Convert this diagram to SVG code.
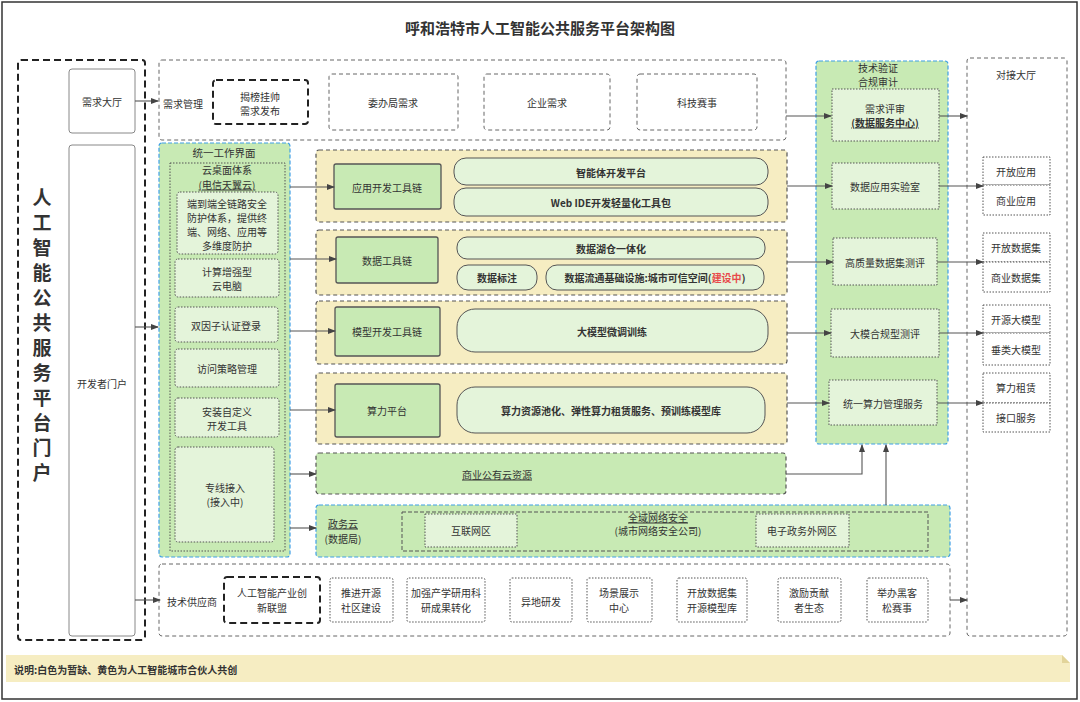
<svg xmlns="http://www.w3.org/2000/svg" width="1080" height="702" viewBox="0 0 1080 702">
<defs>
<marker id="arr" markerWidth="8" markerHeight="6" refX="7" refY="3" orient="auto" markerUnits="userSpaceOnUse">
<path d="M0,0 L8,3 L0,6 Z" fill="#444"/>
</marker>
<style>
.t{font-family:"Noto Sans CJK SC","Noto Sans",sans-serif;font-size:10px;fill:#333;text-anchor:middle;dominant-baseline:central}
.b{font-weight:bold}
.u{text-decoration:underline}
.gdash{fill:#fff;stroke:#666;stroke-width:1;stroke-dasharray:4 3}
.kdash{fill:#fff;stroke:#222;stroke-width:2;stroke-dasharray:7 4}
.plain{fill:#fff;stroke:#888;stroke-width:1}
.dot{fill:#fff;stroke:#555;stroke-width:1;stroke-dasharray:1.5 1.5}
.dotg{fill:#e4f4da;stroke:#555;stroke-width:1;stroke-dasharray:1.5 1.5}
.blue{fill:#c8eab4;stroke:#3e9fe6;stroke-width:1.2;stroke-dasharray:4 2}
.yel{fill:#f6edc2;stroke:#555;stroke-width:1.2;stroke-dasharray:4 3}
.gbox{fill:#c8eab4;stroke:#555;stroke-width:1.3}
.pill{fill:#e4f4da;stroke:#555;stroke-width:1}
.gdashd{fill:#c8eab4;stroke:#555;stroke-width:1.2;stroke-dasharray:4 3}
.c{fill:none;stroke:#555;stroke-width:1.1;marker-end:url(#arr)}
</style>
</defs>
<rect x="0" y="0" width="1080" height="702" fill="#fff"/>
<rect x="2" y="2" width="1075" height="697" fill="none" stroke="#333" stroke-width="1.5"/>
<text class="t b" x="540" y="27" style="font-size:15px">呼和浩特市人工智能公共服务平台架构图</text>

<g id="portal">
<rect class="kdash" x="18" y="60" width="127" height="580" rx="3" style="fill:none"/>
<text class="t b" style="font-size:19px"><tspan x="42" y="196">人</tspan><tspan x="42" y="221">工</tspan><tspan x="42" y="246">智</tspan><tspan x="42" y="271">能</tspan><tspan x="42" y="296">公</tspan><tspan x="42" y="321">共</tspan><tspan x="42" y="346">服</tspan><tspan x="42" y="371">务</tspan><tspan x="42" y="396">平</tspan><tspan x="42" y="421">台</tspan><tspan x="42" y="446">门</tspan><tspan x="42" y="471">户</tspan></text>
</g>
<g id="demand-hall"><rect class="plain" x="69" y="69" width="66" height="64" rx="3"/><text class="t" x="102" y="101">需求大厅</text></g>
<g id="dev-portal"><rect class="plain" x="69" y="145" width="66" height="491" rx="3"/><text class="t" x="102" y="383">开发者门户</text></g>

<g id="demand-mgmt">
<rect class="gdash" x="159" y="60" width="627" height="80" rx="3"/>
<text class="t" x="183" y="103">需求管理</text>
<rect class="kdash" x="213" y="80" width="95" height="44" rx="3"/>
<text class="t"><tspan x="260" y="96">揭榜挂帅</tspan><tspan x="260" y="110">需求发布</tspan></text>
<rect class="gdash" x="329" y="74" width="129" height="56" rx="3"/><text class="t" x="393" y="102">委办局需求</text>
<rect class="gdash" x="484" y="74" width="126" height="56" rx="3"/><text class="t" x="547" y="102">企业需求</text>
<rect class="gdash" x="637" y="74" width="120" height="56" rx="3"/><text class="t" x="697" y="102">科技赛事</text>
</g>

<g id="workspace">
<rect class="blue" x="159" y="143" width="131" height="414" rx="3"/>
<text class="t" x="224" y="152" style="font-size:10.5px">统一工作界面</text>
<rect class="dot" x="170" y="163" width="115" height="388" style="fill:none"/>
<text class="t" x="227" y="169">云桌面体系</text>
<text class="t u" x="227" y="184">(电信天翼云)</text>
<rect class="dotg" x="177" y="192" width="101" height="62" rx="3"/>
<text class="t"><tspan x="227" y="203">端到端全链路安全</tspan><tspan x="227" y="217">防护体系，提供终</tspan><tspan x="227" y="231">端、网络、应用等</tspan><tspan x="227" y="245">多维度防护</tspan></text>
<rect class="dotg" x="175" y="259" width="104" height="38" rx="3"/>
<text class="t"><tspan x="227" y="271">计算增强型</tspan><tspan x="227" y="285">云电脑</tspan></text>
<rect class="dotg" x="175" y="307" width="103" height="35" rx="3"/>
<text class="t" x="226" y="325">双因子认证登录</text>
<rect class="dotg" x="175" y="349" width="104" height="38" rx="3"/>
<text class="t" x="227" y="368">访问策略管理</text>
<rect class="dotg" x="175" y="398" width="104" height="39" rx="3"/>
<text class="t"><tspan x="227" y="411">安装自定义</tspan><tspan x="227" y="425">开发工具</tspan></text>
<rect class="dotg" x="175" y="447" width="99" height="95" rx="3"/>
<text class="t"><tspan x="225" y="487">专线接入</tspan><tspan x="225" y="501">(接入中)</tspan></text>
</g>

<g id="app-chain">
<rect class="yel" x="316" y="150" width="471" height="72" rx="3"/>
<rect class="gbox" x="334" y="164" width="107" height="45" rx="2"/><text class="t" x="387" y="187">应用开发工具链</text>
<rect class="pill" x="454" y="158" width="314" height="27" rx="12"/><text class="t b" x="611" y="172">智能体开发平台</text>
<rect class="pill" x="454" y="188" width="314" height="28" rx="12"/><text class="t b" x="611" y="202">Web IDE开发轻量化工具包</text>
</g>
<g id="data-chain">
<rect class="yel" x="316" y="230" width="471" height="65" rx="3"/>
<rect class="gbox" x="336" y="237" width="102" height="46" rx="2"/><text class="t" x="387" y="260">数据工具链</text>
<rect class="pill" x="457" y="237" width="308" height="22" rx="10"/><text class="t b" x="611" y="248">数据湖仓一体化</text>
<rect class="pill" x="457" y="265" width="80" height="25" rx="11"/><text class="t b" x="497" y="277">数据标注</text>
<rect class="pill" x="546" y="265" width="218" height="25" rx="11"/>
<text class="t b" x="655" y="277">数据流通基础设施:城市可信空间(<tspan style="fill:#e84a4a">建设中</tspan>)</text>
</g>
<g id="model-chain">
<rect class="yel" x="316" y="301" width="471" height="63" rx="3"/>
<rect class="gbox" x="335" y="307" width="105" height="49" rx="2"/><text class="t" x="387" y="331">模型开发工具链</text>
<rect class="pill" x="457" y="309" width="311" height="43" rx="18"/><text class="t b" x="612" y="331">大模型微调训练</text>
</g>
<g id="compute-platform">
<rect class="yel" x="316" y="373" width="471" height="71" rx="3"/>
<rect class="gbox" x="335" y="384" width="105" height="53" rx="2"/><text class="t" x="387" y="410">算力平台</text>
<rect class="pill" x="457" y="387" width="308" height="46" rx="18"/><text class="t b" x="611" y="410">算力资源池化、弹性算力租赁服务、预训练模型库</text>
</g>
<g id="public-cloud">
<rect class="gdashd" x="316" y="453" width="470" height="41" rx="3"/>
<text class="t u" x="497" y="474">商业公有云资源</text>
</g>
<g id="gov-cloud">
<rect class="blue" x="316" y="505" width="634" height="52" rx="3"/>
<text class="t u" x="343" y="523">政务云</text>
<text class="t" x="343" y="538">(数据局)</text>
<rect x="402" y="512" width="526" height="39" fill="none" stroke="#555" stroke-width="1" stroke-dasharray="4 2"/>
<text class="t u" x="658" y="517">全域网络安全</text>
<text class="t" x="658" y="530">(城市网络安全公司)</text>
<rect class="dotg" x="425" y="514" width="92" height="33"/><text class="t" x="471" y="530">互联网区</text>
<rect class="dotg" x="756" y="514" width="93" height="33"/><text class="t" x="802" y="530">电子政务外网区</text>
</g>

<g id="verification">
<rect class="blue" x="816" y="61" width="132" height="383" rx="3"/>
<text class="t"><tspan x="878" y="67">技术验证</tspan><tspan x="878" y="81">合规审计</tspan></text>
<rect class="dotg" x="832" y="89" width="107" height="52"/>
<text class="t" x="885" y="108">需求评审</text>
<text class="t b u" x="885" y="122">(数据服务中心)</text>
<rect class="dotg" x="832" y="163" width="107" height="46"/><text class="t" x="885" y="186">数据应用实验室</text>
<rect class="dotg" x="833" y="238" width="104" height="47"/><text class="t" x="885" y="262">高质量数据集测评</text>
<rect class="dotg" x="831" y="309" width="108" height="48"/><text class="t" x="885" y="333">大模合规型测评</text>
<rect class="dotg" x="829" y="380" width="108" height="45"/><text class="t" x="883" y="403">统一算力管理服务</text>
</g>

<g id="docking-hall">
<rect class="gdash" x="967" y="58" width="100" height="578" rx="3"/>
<text class="t" x="1016" y="74">对接大厅</text>
<rect class="dot" x="983" y="157" width="67" height="28"/><text class="t" x="1016" y="171">开放应用</text>
<rect class="dot" x="983" y="185" width="67" height="30"/><text class="t" x="1016" y="200">商业应用</text>
<rect class="dot" x="983" y="233" width="67" height="29"/><text class="t" x="1016" y="247">开放数据集</text>
<rect class="dot" x="983" y="262" width="67" height="30"/><text class="t" x="1016" y="277">商业数据集</text>
<rect class="dot" x="983" y="305" width="67" height="28"/><text class="t" x="1016" y="319">开源大模型</text>
<rect class="dot" x="983" y="333" width="67" height="32"/><text class="t" x="1016" y="349">垂类大模型</text>
<rect class="dot" x="983" y="373" width="67" height="30"/><text class="t" x="1016" y="387">算力租赁</text>
<rect class="dot" x="983" y="403" width="67" height="29"/><text class="t" x="1016" y="417">接口服务</text>
</g>

<g id="suppliers">
<rect class="gdash" x="159" y="564" width="791" height="72" rx="3"/>
<text class="t" x="192" y="601">技术供应商</text>
<rect class="kdash" x="224" y="577" width="96" height="46" rx="3"/>
<text class="t"><tspan x="272" y="592">人工智能产业创</tspan><tspan x="272" y="607">新联盟</tspan></text>
<rect class="dot" x="330" y="578" width="63" height="44" rx="2"/>
<text class="t"><tspan x="361" y="592">推进开源</tspan><tspan x="361" y="607">社区建设</tspan></text>
<rect class="dot" x="407" y="578" width="78" height="44" rx="2"/>
<text class="t"><tspan x="446" y="592">加强产学研用科</tspan><tspan x="446" y="607">研成果转化</tspan></text>
<rect class="dot" x="510" y="578" width="62" height="44" rx="2"/>
<text class="t" x="541" y="601">异地研发</text>
<rect class="dot" x="587" y="578" width="65" height="44" rx="2"/>
<text class="t"><tspan x="619" y="592">场景展示</tspan><tspan x="619" y="607">中心</tspan></text>
<rect class="dot" x="677" y="578" width="70" height="44" rx="2"/>
<text class="t"><tspan x="712" y="592">开放数据集</tspan><tspan x="712" y="607">开源模型库</tspan></text>
<rect class="dot" x="778" y="578" width="63" height="44" rx="2"/>
<text class="t"><tspan x="809" y="592">激励贡献</tspan><tspan x="809" y="607">者生态</tspan></text>
<rect class="dot" x="867" y="578" width="61" height="44" rx="2"/>
<text class="t"><tspan x="897" y="592">举办黑客</tspan><tspan x="897" y="607">松赛事</tspan></text>
</g>

<g id="connectors">
<path class="c" d="M135,101 H158"/>
<path class="c" d="M135,327 H158"/>
<path class="c" d="M135,600 H160"/>
<path class="c" d="M786,116 H831"/>
<path class="c" d="M290,187 H334"/>
<path class="c" d="M290,259 H336"/>
<path class="c" d="M290,331 H335"/>
<path class="c" d="M290,410 H335"/>
<path class="c" d="M290,474 H316"/>
<path class="c" d="M290,528 H316"/>
<path class="c" d="M787,186 H832"/>
<path class="c" d="M787,262 H833"/>
<path class="c" d="M787,333 H831"/>
<path class="c" d="M787,403 H829"/>
<path class="c" d="M786,474 H862 V445"/>
<path class="c" d="M886,505 V445"/>
<path class="c" d="M939,116 H967"/>
<path class="c" d="M939,186 H983"/>
<path class="c" d="M937,262 H983"/>
<path class="c" d="M939,333 H983"/>
<path class="c" d="M937,403 H983"/>
<path class="c" d="M950,600 H967"/>
</g>

<g id="note">
<path d="M6,655 H1062 L1070,663 V682 H6 Z" fill="#f6edc2"/>
<path d="M1062,655 L1070,663 H1062 Z" fill="#e2d49a"/>
<text class="t b" x="14" y="669" style="text-anchor:start;font-size:10px">说明:白色为暂缺、黄色为人工智能城市合伙人共创</text>
</g>
</svg>
